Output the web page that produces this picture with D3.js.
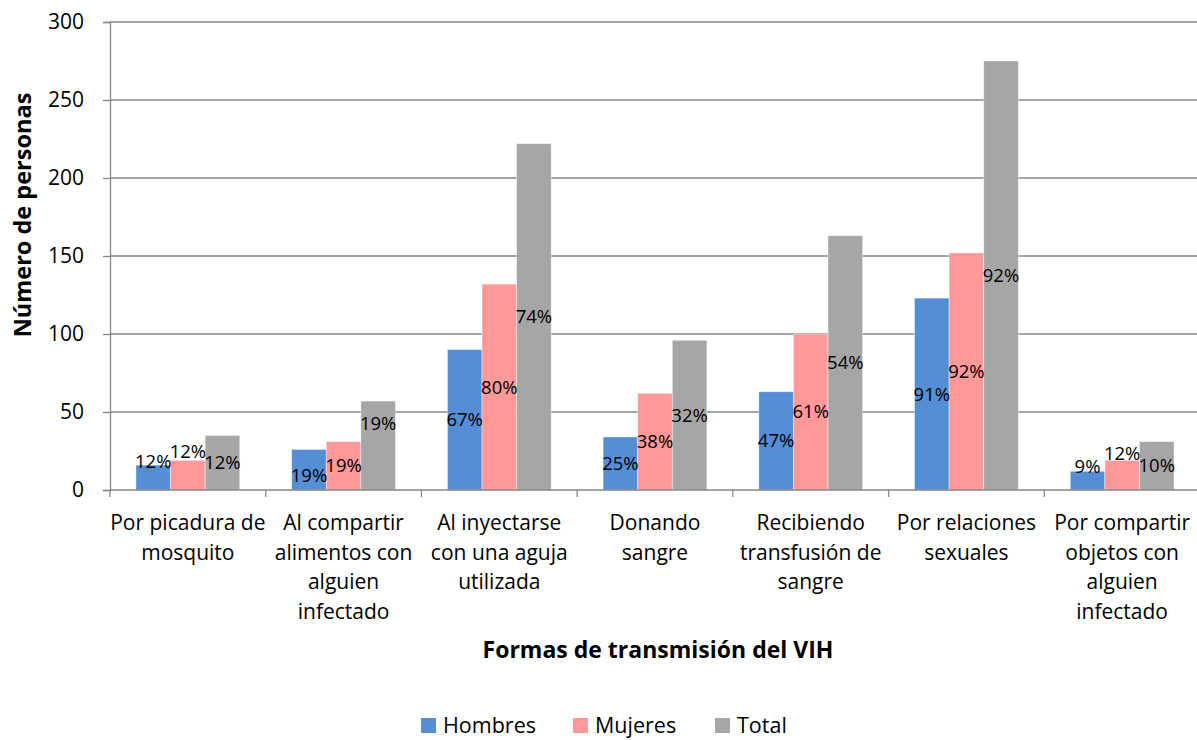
<!DOCTYPE html>
<html>
<head>
<meta charset="utf-8">
<script src="https://cdn.jsdelivr.net/npm/d3@7"></script>
<style>
  body { margin: 0; background: #fff; }
  svg { display: block; font-family: 'Open Sans', sans-serif; }
</style>
</head>
<body>
<div id="chart"></div>
<script>
// Categories (line breaks as they appear on the axis)
const categories = [
  ['Por picadura de', 'mosquito'],
  ['Al compartir', 'alimentos con', 'alguien', 'infectado'],
  ['Al inyectarse', 'con una aguja', 'utilizada'],
  ['Donando', 'sangre'],
  ['Recibiendo', 'transfusión de', 'sangre'],
  ['Por relaciones', 'sexuales'],
  ['Por compartir', 'objetos con', 'alguien', 'infectado']
];
const seriesNames = ['Hombres', 'Mujeres', 'Total'];
const hombres = [16, 26, 90, 34, 63, 123, 12];
const mujeres = [19, 31, 132, 62, 100, 152, 19];
const total = [35, 57, 222, 96, 163, 275, 31];
const hombresPct = ['12%', '19%', '67%', '25%', '47%', '91%', '9%'];
const mujeresPct = ['12%', '19%', '80%', '38%', '61%', '92%', '12%'];
const totalPct = ['12%', '19%', '74%', '32%', '54%', '92%', '10%'];
const yTicks = [0, 50, 100, 150, 200, 250, 300];

const colors = ['#558ed5', '#ff9999', '#a6a6a6'];
const values = [hombres, mujeres, total];
const pcts = [hombresPct, mujeresPct, totalPct];

// a few labels were moved by hand in the original (value units)
const labelAt = { '0-0': 18.5, '0-1': 24.9, '1-0': 9, '1-2': 42.6, '6-0': 15.1, '6-1': 23.7 };

const W = 1197, H = 740;
const plotLeft = 110, plotRight = 1200, plotTop = 22, plotBottom = 490;

const svg = d3.select('#chart').append('svg')
  .attr('width', W).attr('height', H);

const keys = categories.map((c, i) => i);
const x0 = d3.scaleBand().domain(keys).range([plotLeft, plotRight]).padding(0);
const x1 = d3.scaleBand().domain([0, 1, 2]).range([0, x0.bandwidth()])
  .paddingInner(0).paddingOuter(0.75);
const y = d3.scaleLinear().domain([0, 300]).range([plotBottom, plotTop]);

// gridlines
svg.append('g')
  .selectAll('line')
  .data(yTicks.filter(d => d > 0))
  .enter().append('line')
  .attr('x1', plotLeft).attr('x2', plotRight)
  .attr('y1', d => y(d)).attr('y2', d => y(d))
  .attr('stroke', '#868686').attr('stroke-width', 1.3);

// y axis
const yAxis = svg.append('g')
  .attr('transform', `translate(${plotLeft},0)`)
  .call(d3.axisLeft(y).tickValues(yTicks).tickSize(7).tickPadding(19));
yAxis.select('.domain').attr('stroke', '#868686').attr('stroke-width', 1.3);
yAxis.selectAll('.tick line').attr('stroke', '#868686').attr('stroke-width', 1.3);
yAxis.selectAll('.tick text')
  .attr('font-family', "'Open Sans', sans-serif")
  .attr('font-size', 21).attr('fill', '#000');

// bars
const groups = svg.append('g')
  .selectAll('g')
  .data(keys)
  .enter().append('g')
  .attr('transform', d => `translate(${x0(d)},0)`);

groups.selectAll('rect')
  .data(i => values.map((v, s) => ({ i, s, v: v[i] })))
  .enter().append('rect')
  .attr('x', d => x1(d.s))
  .attr('width', x1.bandwidth())
  .attr('y', d => y(d.v))
  .attr('height', d => y(0) - y(d.v))
  .attr('fill', d => colors[d.s])
  .attr('stroke', 'rgba(255,255,255,0.5)')
  .attr('stroke-width', 0.8);

// data labels
groups.selectAll('text')
  .data(i => values.map((v, s) => ({ i, s, v: v[i], t: pcts[s][i] })))
  .enter().append('text')
  .attr('x', d => x1(d.s) + x1.bandwidth() / 2)
  .attr('y', d => {
    const k = d.i + '-' + d.s;
    return y(labelAt[k] !== undefined ? labelAt[k] : d.v / 2);
  })
  .attr('dy', '0.35em')
  .attr('text-anchor', 'middle')
  .attr('font-size', 18.5)
  .attr('fill', '#000')
  .text(d => d.t);

// x axis line and boundary ticks
svg.append('line')
  .attr('x1', plotLeft).attr('x2', plotRight)
  .attr('y1', y(0)).attr('y2', y(0))
  .attr('stroke', '#868686').attr('stroke-width', 1.3);

const bounds = keys.map(k => x0(k)).concat([plotRight]);
svg.append('g')
  .selectAll('line')
  .data(bounds)
  .enter().append('line')
  .attr('x1', d => d).attr('x2', d => d)
  .attr('y1', y(0)).attr('y2', y(0) + 7)
  .attr('stroke', '#868686').attr('stroke-width', 1.3);

// category labels
const catText = svg.append('g')
  .selectAll('text')
  .data(keys)
  .enter().append('text')
  .attr('text-anchor', 'middle')
  .attr('font-size', 21)
  .attr('fill', '#000');
catText.selectAll('tspan')
  .data(i => categories[i].map(line => ({ i, line })))
  .enter().append('tspan')
  .attr('x', d => x0(d.i) + x0.bandwidth() / 2)
  .attr('y', (d, j) => 530 + j * 29.5)
  .text(d => d.line);

// axis titles
svg.append('text')
  .attr('x', 658).attr('y', 658)
  .attr('text-anchor', 'middle')
  .attr('font-size', 23).attr('font-weight', 'bold')
  .text('Formas de transmisión del VIH');

svg.append('text')
  .attr('transform', 'translate(31,215) rotate(-90)')
  .attr('text-anchor', 'middle')
  .attr('font-size', 23.5).attr('font-weight', 'bold')
  .text('Número de personas');

// legend
const legendX = [421, 573, 715];
const legend = svg.append('g')
  .selectAll('g')
  .data(seriesNames)
  .enter().append('g')
  .attr('transform', (d, i) => `translate(${legendX[i]},718)`);
legend.append('rect')
  .attr('width', 15).attr('height', 15)
  .attr('fill', (d, i) => colors[i]);
legend.append('text')
  .attr('x', 22).attr('y', 7.5).attr('dy', '0.35em')
  .attr('font-size', 21.5)
  .text(d => d);
</script>
</body>
</html>
